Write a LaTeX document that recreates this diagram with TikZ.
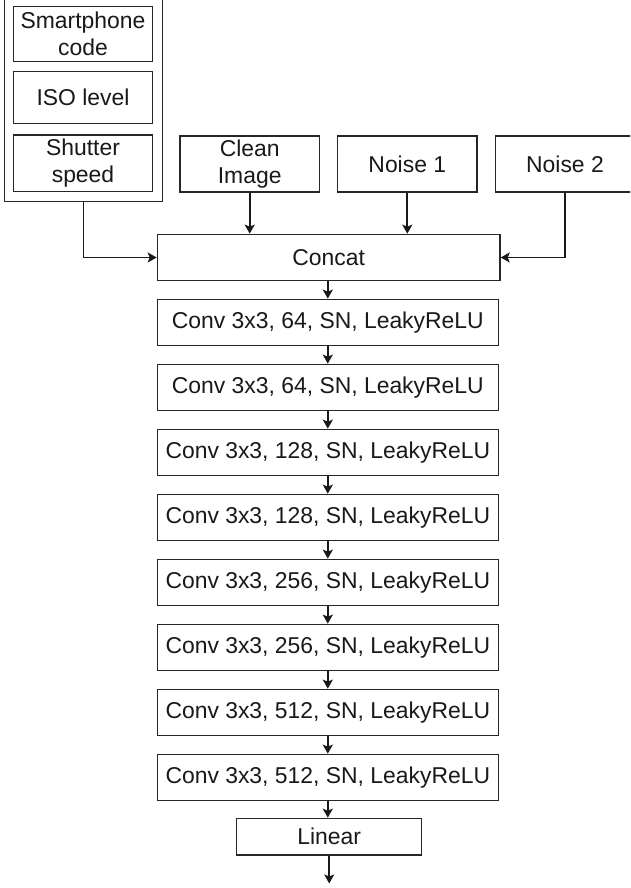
\documentclass[tikz,border=0pt]{standalone}
\usepackage{fontspec}
\setmainfont{Liberation Sans}
\usetikzlibrary{arrows.meta}
\begin{document}
\begin{tikzpicture}[x=1pt,y=-1pt,
  box/.style={draw=black!85, line width=1.3pt, fill=white, inner sep=0pt, align=center,
    font=\fontsize{22.9}{27}\selectfont, text=black!90},
  conv/.style={box, minimum width=341pt, minimum height=46pt},
  arr/.style={draw=black!90, line width=1.8pt, -{Stealth[length=9pt,width=10pt,inset=2pt]}}]
\useasboundingbox (0,0) rectangle (630,888);
\clip (0,0) rectangle (630,888);
% container (top cut off)
\node[box, minimum width=158pt, minimum height=212pt, anchor=south] (cont) at (83.5,202) {};
\node[box, minimum width=139.4pt, minimum height=55pt] (sc) at (83,34.2) {Smartphone\\code};
\node[box, minimum width=139.4pt, minimum height=51.6pt] (iso) at (83,97.5) {ISO level};
\node[box, minimum width=139.4pt, minimum height=56.7pt] (ss) at (83,163.3) {Shutter\\speed};
% inputs
\node[box, minimum width=139.3pt, minimum height=56pt] (clean) at (249.7,164) {Clean\\Image};
\node[box, minimum width=139.3pt, minimum height=56pt] (n1) at (407.3,164) {Noise 1};
\node[box, minimum width=139.3pt, minimum height=56pt] (n2) at (565,164) {Noise 2};
% concat
\node[box, minimum width=342.7pt, minimum height=46.4pt] (concat) at (328.7,257.5) {Concat};
% conv stack
\node[conv] (c1) at (327.8,322.3) {Conv 3x3, 64, SN, LeakyReLU};
\node[conv] (c2) at (327.8,387.3) {Conv 3x3, 64, SN, LeakyReLU};
\node[conv] (c3) at (327.8,452.3) {Conv 3x3, 128, SN, LeakyReLU};
\node[conv] (c4) at (327.8,517.3) {Conv 3x3, 128, SN, LeakyReLU};
\node[conv] (c5) at (327.8,582.3) {Conv 3x3, 256, SN, LeakyReLU};
\node[conv] (c6) at (327.8,647.3) {Conv 3x3, 256, SN, LeakyReLU};
\node[conv] (c7) at (327.8,712.3) {Conv 3x3, 512, SN, LeakyReLU};
\node[conv] (c8) at (327.8,777.3) {Conv 3x3, 512, SN, LeakyReLU};
\node[box, minimum width=185pt, minimum height=36.7pt] (lin) at (329.2,836.7) {Linear};
\coordinate (out) at (329.2,883.5);
% connectors
\draw[arr] (cont.south) |- (concat.west);
\draw[arr] (clean.south) -- (clean.south |- concat.north);
\draw[arr] (n1.south) -- (n1.south |- concat.north);
\draw[arr] (n2.south) |- (concat.east);
\draw[arr] (c1.north |- concat.south) -- (c1.north);
\draw[arr] (c1.south) -- (c2.north);
\draw[arr] (c2.south) -- (c3.north);
\draw[arr] (c3.south) -- (c4.north);
\draw[arr] (c4.south) -- (c5.north);
\draw[arr] (c5.south) -- (c6.north);
\draw[arr] (c6.south) -- (c7.north);
\draw[arr] (c7.south) -- (c8.north);
\draw[arr] (c8.south) -- (c8.south |- lin.north);
\draw[arr] (lin.south) -- (out);
\end{tikzpicture}
\end{document}
